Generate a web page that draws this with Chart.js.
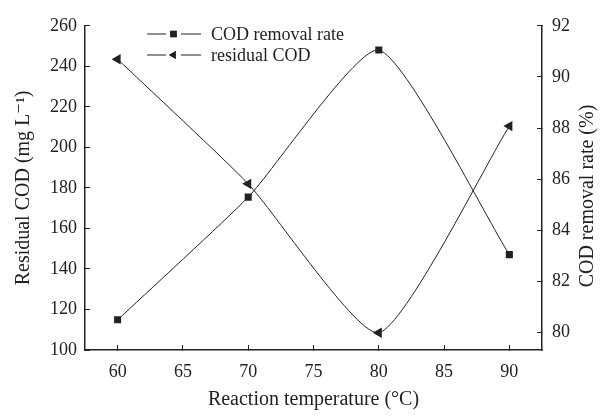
<!DOCTYPE html>
<html>
<head>
<meta charset="utf-8">
<script src="https://cdn.jsdelivr.net/npm/chart.js@4.4.0/dist/chart.umd.min.js"></script>
<style>
  html, body { margin: 0; padding: 0; background: #fff; }
  #wrap { position: relative; width: 602px; height: 416px; }
</style>
</head>
<body>
<div id="wrap"><canvas id="c" width="602" height="416"></canvas></div>
<script>
const temps = [60, 70, 80, 90];
const removalRate = [80.5, 85.3, 91.05, 83.05];   // %, right axis
const residualCOD = [243.5, 182, 108.5, 210.5];   // mg/L, left axis
const xTicks = [60, 65, 70, 75, 80, 85, 90];
const leftTicks = [100, 120, 140, 160, 180, 200, 220, 240, 260];
const rightTicks = [80, 82, 84, 86, 88, 90, 92];

const ink = '#222';
const serif = '"Liberation Serif", "DejaVu Serif", serif';

const legendItems = [
  { text: 'COD removal rate', style: 'rect', rot: 0 },
  { text: 'residual COD', style: 'triangle', rot: -90 },
];

// legend drawn inside the plot, like the original figure
const legendPlugin = {
  id: 'figLegend',
  afterDraw(chart) {
    const ctx = chart.ctx;
    ctx.save();
    legendItems.forEach((it, i) => {
      const y = 34 + i * 21;
      ctx.strokeStyle = ink;
      ctx.lineWidth = 1;
      ctx.beginPath();
      ctx.moveTo(147, y); ctx.lineTo(166, y);
      ctx.moveTo(181, y); ctx.lineTo(201, y);
      ctx.stroke();
      Chart.helpers.drawPoint(ctx, { pointStyle: it.style, radius: 4.5, rotation: it.rot, borderWidth: 0 }, 173.5, y);
      ctx.fillStyle = ink;
      ctx.fill();
      ctx.font = '18px ' + serif;
      ctx.textBaseline = 'middle';
      ctx.fillText(it.text, 211, y + 1);
    });
    // right axis title reads bottom-to-top like the left one
    ctx.translate(588, 196);
    ctx.rotate(-Math.PI / 2);
    ctx.font = '20px ' + serif;
    ctx.textAlign = 'center';
    ctx.fillText('COD removal rate (%)', 0, 0);
    ctx.restore();
  }
};

const fixTicks = list => scale => { scale.ticks = list.map(v => ({ value: v })); };

new Chart(document.getElementById('c'), {
  type: 'line',
  data: {
    datasets: [
      {
        label: 'COD removal rate',
        data: temps.map((t, i) => ({ x: t, y: removalRate[i] })),
        yAxisID: 'yR',
        borderColor: ink, backgroundColor: ink,
        borderWidth: 1, tension: 0.18,
        pointStyle: 'rect', pointRadius: 5, pointBorderWidth: 0,
      },
      {
        label: 'residual COD',
        data: temps.map((t, i) => ({ x: t, y: residualCOD[i] })),
        yAxisID: 'yL',
        borderColor: ink, backgroundColor: ink,
        borderWidth: 1, tension: 0.18,
        pointStyle: 'triangle', pointRotation: -90, pointRadius: 6, pointBorderWidth: 0,
      },
    ],
  },
  options: {
    responsive: false,
    animation: false,
    layout: { padding: { top: 18, left: 0, right: 0, bottom: 0 } },
    plugins: { legend: { display: false }, tooltip: { enabled: false } },
    scales: {
      x: {
        type: 'linear', min: 57.5, max: 92.5,
        afterBuildTicks: fixTicks(xTicks),
        afterFit: s => { s.height = 66; },
        grid: { drawOnChartArea: false, tickLength: -5, color: ink, lineWidth: 1 },
        border: { color: ink, width: 1.5 },
        ticks: { color: ink, font: { family: serif, size: 18 }, padding: 16, maxRotation: 0 },
        title: { display: true, text: 'Reaction temperature (°C)', color: ink, font: { family: serif, size: 20 }, padding: { top: 0, bottom: 4 } },
      },
      yL: {
        position: 'left', min: 100, max: 260,
        afterBuildTicks: fixTicks(leftTicks),
        afterFit: s => { s.width = 85; },
        grid: { drawOnChartArea: false, tickLength: -5, color: ink, lineWidth: 1 },
        border: { color: ink, width: 1.5 },
        ticks: { color: ink, font: { family: serif, size: 18 }, padding: 13 },
        title: { display: true, text: 'Residual COD (mg L⁻¹)', color: ink, font: { family: serif, size: 20 }, padding: { top: 12 } },
      },
      yR: {
        position: 'right', min: 79.32, max: 92,
        afterBuildTicks: fixTicks(rightTicks),
        afterFit: s => { s.width = 60; },
        grid: { drawOnChartArea: false, tickLength: -5, color: ink, lineWidth: 1 },
        border: { color: ink, width: 1.5 },
        ticks: { color: ink, font: { family: serif, size: 18 }, padding: 15 },
        title: { display: false },
      },
    },
  },
  plugins: [legendPlugin],
});
</script>
</body>
</html>
